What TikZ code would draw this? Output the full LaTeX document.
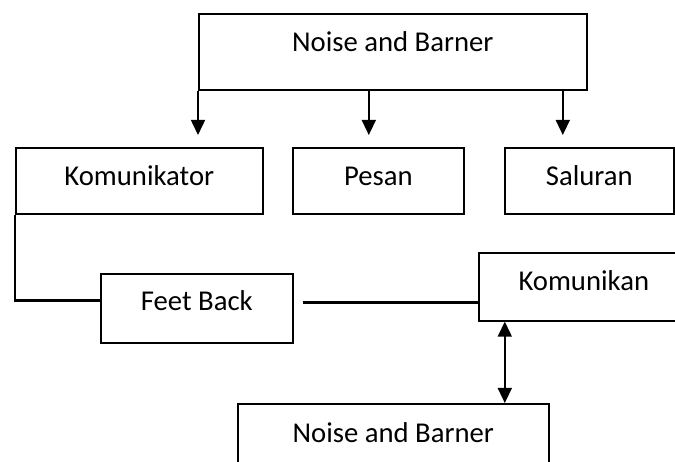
\documentclass[tikz,border=0pt]{standalone}
\usepackage{fontspec}
\setmainfont{Carlito}
\usetikzlibrary{arrows.meta,calc}
\begin{document}
\begin{tikzpicture}[x=1pt,y=-1pt,
  box/.style={draw,line width=1.6pt,inner sep=0pt,anchor=north west,align=center,
    font=\fontsize{28.7}{34}\selectfont},
  arr/.style={line width=1.5pt,-{Triangle[width=14pt,length=15pt]}},
  darr/.style={line width=1.5pt,{Triangle[width=14pt,length=15pt]}-{Triangle[width=14pt,length=15pt]}},
  thick line/.style={line width=2.6pt},
  thicker line/.style={line width=3pt}]
\path[use as bounding box] (0,0) rectangle (675,462);
\clip (0,0) rectangle (675,462);
\node[box,minimum width=388pt,text height=38pt,text depth=38pt] (top) at (198,13) {Noise and Barner};
\node[box,minimum width=247pt,text height=38pt,text depth=28pt] (kom) at (15,147) {Komunikator};
\node[box,minimum width=171pt,text height=38pt,text depth=28pt] (pes) at (292,147) {Pesan};
\node[box,minimum width=169pt,text height=38pt,text depth=28pt] (sal) at (504,147) {Saluran};
\node[box,minimum width=192pt,text height=37pt,text depth=32pt] (fb) at (100,273) {Feet Back};
\node[box,minimum width=210pt,text height=38pt,text depth=30pt] (kan) at (478,252) {Komunikan};
\node[box,minimum width=311pt,text height=39pt,text depth=40pt] (bot) at (237,403) {Noise and Barner};
% arrows from top box
\draw[arr,shorten >=12pt] (top.south west) -- (top.south west |- kom.north);
\draw[arr,shorten >=12pt] ([xshift=-24pt]top.south) -- ([xshift=-24pt]top.south |- pes.north);
\draw[arr,shorten >=12pt] ([xshift=170pt]top.south) -- ([xshift=170pt]top.south |- sal.north);
% Komunikator to Feet Back
\draw[thick line] (kom.south west) |- ([yshift=7.5pt]fb.west);
% Feet Back to Komunikan
\draw[thicker line] ([xshift=9pt,yshift=5.5pt]fb.east) -- ([yshift=5.5pt]fb.east -| kan.west);
% Komunikan <-> bottom
\draw[darr] ([xshift=-79pt]kan.south) -- ([xshift=-79pt]kan.south |- bot.north);
\end{tikzpicture}
\end{document}
